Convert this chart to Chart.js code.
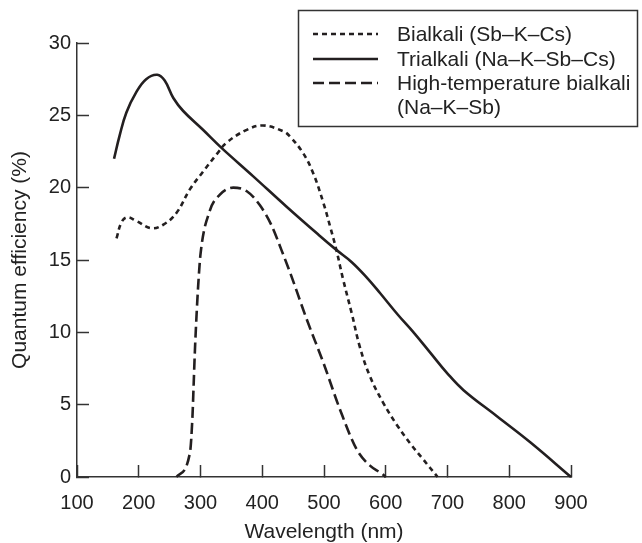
<!DOCTYPE html>
<html>
<head>
<meta charset="utf-8">
<script src="https://cdn.jsdelivr.net/npm/chart.js@4.4.1/dist/chart.umd.min.js"></script>
<style>
  html, body { margin: 0; padding: 0; background: #ffffff; }
  #wrap { width: 642px; height: 543px; }
</style>
</head>
<body>
<div id="wrap"><canvas id="c" width="642" height="543"></canvas></div>
<script>
// ---- Data ----
const seriesNames = ['Bialkali (Sb\u2013K\u2013Cs)', 'Trialkali (Na\u2013K\u2013Sb\u2013Cs)', 'High-temperature bialkali', '(Na\u2013K\u2013Sb)'];

const bialkaliWavelength = [164, 172, 181, 196, 220, 240, 261, 283, 304, 326, 342, 375, 401, 434, 444.5, 466, 482.5, 499, 510, 520, 531, 545, 558, 574, 595, 618, 640, 660, 684];
const bialkaliQE         = [16.5, 17.6, 17.95, 17.7, 17.2, 17.45, 18.25, 19.9, 21.1, 22.3, 23.1, 24.0, 24.3, 23.9, 23.55, 22.4, 21.0, 18.95, 17.3, 15.7, 13.65, 11.3, 9.0, 7.0, 5.2, 3.6, 2.3, 1.25, 0];

const trialkaliWavelength = [160, 169, 180, 196, 212, 230, 242, 256, 272, 304, 334, 385, 439, 491, 520, 545, 569, 591, 620, 645, 672, 699, 726, 780, 834, 900];
const trialkaliQE         = [22.0, 23.6, 25.2, 26.6, 27.5, 27.8, 27.4, 26.2, 25.3, 24.0, 22.75, 20.8, 18.7, 16.75, 15.7, 14.85, 13.8, 12.7, 11.2, 10.0, 8.6, 7.2, 6.0, 4.2, 2.4, 0];

const highTempWavelength = [261, 283, 287, 289, 291, 293.5, 296.5, 300, 315, 331, 353, 375, 396, 415, 431, 444.5, 472, 499, 526, 553, 574, 593, 600];
const highTempQE         = [0, 1.7, 4.2, 6.5, 8.8, 11.1, 13.4, 15.4, 18.4, 19.5, 20.0, 19.75, 18.8, 17.4, 15.7, 14.2, 10.9, 7.9, 4.65, 1.9, 0.8, 0.25, 0];

const xTicks = [100, 200, 300, 400, 500, 600, 700, 800, 900];
const yTicks = [0, 5, 10, 15, 20, 25, 30];
const xTitle = 'Wavelength (nm)';
const yTitle = 'Quantum efficiency (%)';

// ---- Helpers ----
function pts(xs, ys) { return xs.map((x, i) => ({ x: x, y: ys[i] })); }

const INK = '#231f20';
const AXIS = '#333333';
const TEXT = '#222222';
const FONT = "'Liberation Sans', Arial, Helvetica, sans-serif";

const dashes = { bialkali: [5, 4], trialkali: [], highTemp: [11, 5] };

// Custom boxed legend (multi-line label for the third entry)
const boxLegend = {
  id: 'boxLegend',
  afterDraw(chart) {
    const ctx = chart.ctx;
    ctx.save();
    ctx.strokeStyle = AXIS;
    ctx.lineWidth = 1.5;
    ctx.strokeRect(298.5, 10.5, 339, 116);
    const rows = [
      { y: 34, dash: dashes.bialkali },
      { y: 59, dash: dashes.trialkali },
      { y: 83, dash: dashes.highTemp }
    ];
    ctx.strokeStyle = INK;
    ctx.lineWidth = 2.6;
    rows.forEach(r => {
      ctx.setLineDash(r.dash);
      ctx.beginPath();
      ctx.moveTo(313, r.y);
      ctx.lineTo(378, r.y);
      ctx.stroke();
    });
    ctx.setLineDash([]);
    ctx.fillStyle = TEXT;
    ctx.font = '21px ' + FONT;
    ctx.textAlign = 'left';
    ctx.textBaseline = 'middle';
    const ty = [35, 60, 84, 108];
    seriesNames.forEach((t, i) => ctx.fillText(t, 397, ty[i]));
    ctx.restore();
  }
};

const common = {
  showLine: true,
  pointRadius: 0,
  pointHoverRadius: 0,
  borderColor: INK,
  backgroundColor: INK,
  borderWidth: 2.6,
  fill: false,
  clip: false
};

new Chart(document.getElementById('c'), {
  type: 'scatter',
  data: {
    datasets: [
      Object.assign({ label: seriesNames[0], data: pts(bialkaliWavelength, bialkaliQE), borderDash: dashes.bialkali, tension: 0.4 }, common),
      Object.assign({ label: seriesNames[1], data: pts(trialkaliWavelength, trialkaliQE), borderDash: dashes.trialkali, tension: 0.4 }, common),
      Object.assign({ label: seriesNames[2] + ' ' + seriesNames[3], data: pts(highTempWavelength, highTempQE), borderDash: dashes.highTemp, cubicInterpolationMode: 'monotone' }, common)
    ]
  },
  options: {
    responsive: false,
    animation: false,
    devicePixelRatio: 1,
    layout: { padding: { top: 43, right: 71, left: 0, bottom: 0 } },
    plugins: { legend: { display: false }, tooltip: { enabled: false } },
    scales: {
      x: {
        type: 'linear',
        min: 100, max: 900,
        afterBuildTicks: (s) => { s.ticks = xTicks.map(v => ({ value: v })); },
        afterFit: (s) => { s.height = 66; },
        grid: { display: true, drawOnChartArea: false, drawTicks: true, tickLength: -12, tickWidth: 1.5, tickColor: AXIS },
        border: { display: true, color: AXIS, width: 1.5 },
        ticks: { color: TEXT, font: { family: FONT, size: 20, lineHeight: 1.2 }, padding: 26, maxRotation: 0, autoSkip: false },
        title: { display: true, text: xTitle, color: TEXT, font: { family: FONT, size: 21, lineHeight: 1 }, padding: { top: 0, bottom: 0 } }
      },
      y: {
        type: 'linear',
        min: 0, max: 30,
        afterBuildTicks: (s) => { s.ticks = yTicks.map(v => ({ value: v })); },
        afterFit: (s) => { s.width = 77; },
        grid: { display: true, drawOnChartArea: false, drawTicks: true, tickLength: -12, tickWidth: 1.5, tickColor: AXIS },
        border: { display: true, color: AXIS, width: 1.5 },
        ticks: { color: TEXT, font: { family: FONT, size: 20, lineHeight: 1.2 }, padding: 18, autoSkip: false },
        title: { display: true, text: yTitle, color: TEXT, font: { family: FONT, size: 21, lineHeight: 1 }, padding: { top: 10, bottom: 0 } }
      }
    }
  },
  plugins: [boxLegend]
});
</script>
</body>
</html>
